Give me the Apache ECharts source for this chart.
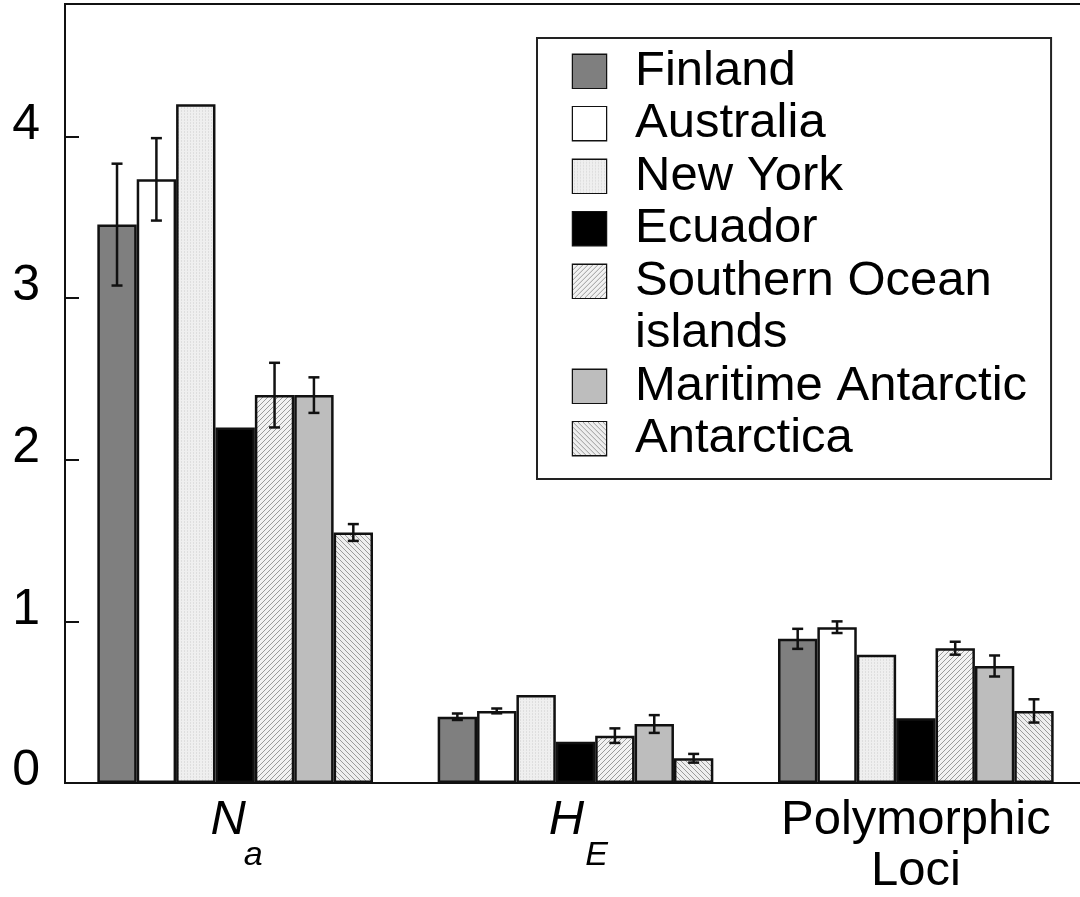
<!DOCTYPE html>
<html>
<head>
<meta charset="utf-8">
<script src="https://cdn.jsdelivr.net/npm/echarts@6/dist/echarts.min.js"></script>
<style>
html, body { margin: 0; padding: 0; background: #fff; }
#chart { width: 1080px; height: 897px; }
</style>
</head>
<body>
<div id="chart"></div>
<script>
// categories on the x axis
var categories = ['Na', 'HE', 'Polymorphic Loci'];
var countries = ['Finland', 'Australia', 'New York', 'Ecuador', 'Southern Ocean islands', 'Maritime Antarctic', 'Antarctica'];
var yTicks = [0, 1, 2, 3, 4];

// means per country (Na, HE, Polymorphic Loci)
var finland    = [3.455, 0.41, 0.892];
var australia  = [3.735, 0.446, 0.964];
var newYork    = [4.20, 0.545, 0.793];
var ecuador    = [2.20, 0.256, 0.40];
var southOcean = [2.40, 0.293, 0.834];
var maritime   = [2.40, 0.365, 0.724];
var antarctica = [1.55, 0.153, 0.446];

// error half-widths (null = no error bar)
var finlandErr    = [0.377, 0.02, 0.062];
var australiaErr  = [0.255, 0.015, 0.036];
var newYorkErr    = [null, null, null];
var ecuadorErr    = [null, null, null];
var southOceanErr = [0.20, 0.045, 0.04];
var maritimeErr   = [0.11, 0.055, 0.065];
var antarcticaErr = [0.052, 0.027, 0.072];

var means = [finland, australia, newYork, ecuador, southOcean, maritime, antarctica];
var errs = [finlandErr, australiaErr, newYorkErr, ecuadorErr, southOceanErr, maritimeErr, antarcticaErr];

var gapRatio = 0.19;
var font = 'Liberation Sans, Arial, Helvetica, sans-serif';

// pattern tiles
function hatchTile(bg, fg, dir) {
    var c = document.createElement('canvas');
    c.width = 5; c.height = 5;
    var g = c.getContext('2d');
    g.fillStyle = bg;
    g.fillRect(0, 0, 5, 5);
    g.strokeStyle = fg;
    g.lineWidth = 1;
    g.beginPath();
    if (dir > 0) {
        g.moveTo(-1, 6); g.lineTo(6, -1);
        g.moveTo(-1, 1); g.lineTo(1, -1);
        g.moveTo(4, 6); g.lineTo(6, 4);
    } else {
        g.moveTo(-1, -1); g.lineTo(6, 6);
        g.moveTo(4, -1); g.lineTo(6, 1);
        g.moveTo(-1, 4); g.lineTo(1, 6);
    }
    g.stroke();
    return c;
}
function dotTile(bg, fg) {
    var c = document.createElement('canvas');
    c.width = 3; c.height = 3;
    var g = c.getContext('2d');
    g.fillStyle = bg;
    g.fillRect(0, 0, 3, 3);
    g.fillStyle = fg;
    g.fillRect(1, 0, 1, 1);
    g.fillRect(1, 2, 1, 1);
    return c;
}
// a filled swatch canvas for the legend
function swatch(fill, size) {
    var c = document.createElement('canvas');
    c.width = size; c.height = size;
    var g = c.getContext('2d');
    g.fillStyle = typeof fill === 'string' ? fill : g.createPattern(fill, 'repeat');
    g.fillRect(0, 0, size, size);
    return c;
}

var tiles = [
    '#7f7f7f',
    '#ffffff',
    dotTile('#efefef', '#dedede'),
    '#000000',
    hatchTile('#f2f2f2', '#9a9a9a', 1),
    '#bdbdbd',
    hatchTile('#eeeeee', '#9a9a9a', -1)
];

var series = [];
countries.forEach(function (name, k) {
    var t = tiles[k];
    series.push({
        name: name,
        type: 'bar',
        data: means[k],
        barGap: 0,
        barCategoryGap: (gapRatio * 100) + '%',
        itemStyle: {
            color: typeof t === 'string' ? t : { image: t, repeat: 'repeat' },
            borderColor: '#111',
            borderWidth: 2.5
        },
        emphasis: { disabled: true }
    });
});

var errData = [];
errs.forEach(function (arr, k) {
    arr.forEach(function (e, i) {
        if (e != null) errData.push([i, k, means[k][i] - e, means[k][i] + e]);
    });
});

series.push({
    type: 'custom',
    data: errData,
    z: 10,
    renderItem: function (params, api) {
        var cat = api.value(0), k = api.value(1);
        var band = api.size([1, 0])[0];
        var barW = band * (1 - gapRatio) / countries.length;
        var off = (k - (countries.length - 1) / 2) * barW;
        var hi = api.coord([cat, api.value(3)]);
        var lo = api.coord([cat, api.value(2)]);
        var x = hi[0] + off, cap = 5.5;
        var st = { stroke: '#111', lineWidth: 2.5 };
        return {
            type: 'group',
            children: [
                { type: 'line', shape: { x1: x, y1: hi[1], x2: x, y2: lo[1] }, style: st },
                { type: 'line', shape: { x1: x - cap, y1: hi[1], x2: x + cap, y2: hi[1] }, style: st },
                { type: 'line', shape: { x1: x - cap, y1: lo[1], x2: x + cap, y2: lo[1] }, style: st }
            ]
        };
    }
});

// legend rich styles: swatch token + text
var legendLine = 52.5;
var legendRich = {
    t: { fontSize: 49, fontFamily: font, color: '#000', lineHeight: legendLine, padding: [0, 0, 0, 29] },
    t2: { fontSize: 49, fontFamily: font, color: '#000', lineHeight: legendLine, padding: [0, 0, 0, 62] }
};
tiles.forEach(function (t, k) {
    legendRich['sw' + k] = {
        width: 33, height: 33,
        lineHeight: legendLine,
        verticalAlign: 'middle',
        backgroundColor: { image: swatch(t, 33) },
        borderColor: '#111',
        borderWidth: 2.5
    };
});

var myChart = echarts.init(document.getElementById('chart'));
var option = {
    backgroundColor: '#fff',
    animation: false,
    grid: {
        left: 65, top: 4, right: -6, bottom: 114,
        show: true, borderColor: '#111', borderWidth: 2,
        backgroundColor: 'transparent',
        containLabel: false,
        outerBoundsMode: 'none'
    },
    legend: {
        data: countries,
        orient: 'vertical',
        left: 537, top: 38,
        padding: [7, 24, 14, 31],
        borderColor: '#222', borderWidth: 2,
        backgroundColor: '#fff',
        icon: 'none',
        itemWidth: 0, itemHeight: 0,
        itemGap: 0,
        selectedMode: false,
        formatter: function (name) {
            var k = countries.indexOf(name);
            if (name === 'Southern Ocean islands') {
                return '{sw' + k + '| }{t|Southern Ocean}\n{t2|islands}';
            }
            return '{sw' + k + '| }{t|' + name + '}';
        },
        textStyle: {
            color: '#000', fontFamily: font, fontSize: 49,
            backgroundColor: 'rgba(255,255,255,0)',
            rich: legendRich
        }
    },
    xAxis: {
        type: 'category',
        data: categories,
        axisLine: { lineStyle: { color: '#111', width: 2 } },
        axisTick: { show: false },
        axisLabel: {
            margin: 12,
            interval: 0,
            color: '#000',
            fontFamily: font,
            formatter: function (v) {
                if (v === 'Na') return '{n|N}\n{na|a}';
                if (v === 'HE') return '{h|H}\n{he|E}';
                return '{p|Polymorphic}\n{p|Loci}';
            },
            rich: {
                n: { fontSize: 49, fontStyle: 'italic', fontFamily: font, lineHeight: 51, padding: [0, 14, 0, 0], color: '#000' },
                na: { fontSize: 34, fontStyle: 'italic', fontFamily: font, lineHeight: 20, padding: [0, 0, 0, 36], color: '#000' },
                h: { fontSize: 49, fontStyle: 'italic', fontFamily: font, lineHeight: 51, padding: [0, 18, 0, 0], color: '#000' },
                he: { fontSize: 34, fontStyle: 'italic', fontFamily: font, lineHeight: 20, padding: [0, 0, 0, 42], color: '#000' },
                p: { fontSize: 49, fontFamily: font, lineHeight: 51, color: '#000' }
            }
        },
        splitLine: { show: false }
    },
    yAxis: {
        type: 'value',
        min: 0,
        max: 4.82,
        interval: 1,
        axisLine: { show: true, lineStyle: { color: '#111', width: 2 } },
        axisTick: { show: true, inside: true, length: 14, lineStyle: { color: '#111', width: 2 } },
        axisLabel: {
            margin: 25,
            color: '#000',
            fontFamily: font,
            showMaxLabel: false,
            formatter: function (v) {
                return yTicks.indexOf(v) >= 0 ? '{v|' + v + '}' : '';
            },
            rich: {
                // labels sit a little above their ticks in the original
                v: { fontSize: 50, fontFamily: font, color: '#000', lineHeight: 50, padding: [0, 0, 23, 0] }
            }
        },
        splitLine: { show: false }
    },
    series: series
};
myChart.setOption(option);
window.addEventListener('resize', function () {
    myChart.resize();
});
</script>
</body>
</html>
